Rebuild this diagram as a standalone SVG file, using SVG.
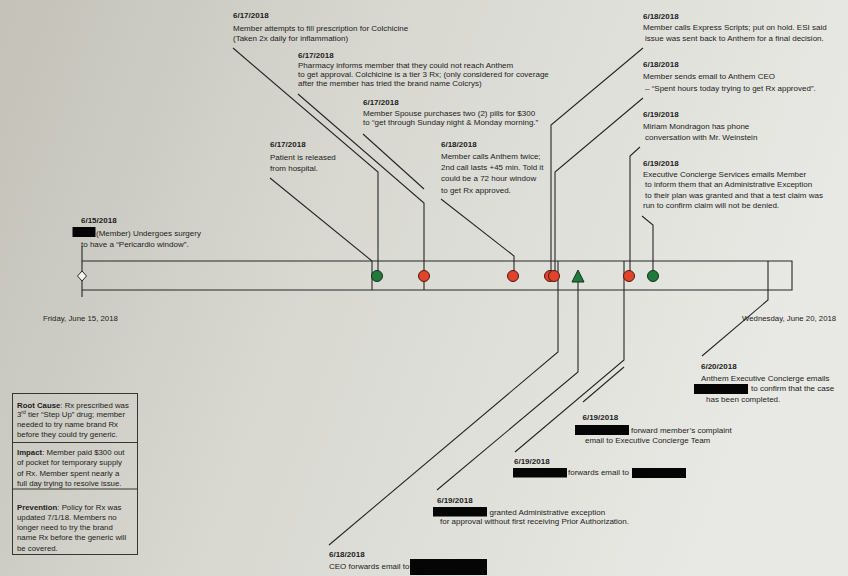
<svg xmlns="http://www.w3.org/2000/svg" width="848" height="576" viewBox="0 0 848 576">
<defs>
<linearGradient id="bg" x1="0" y1="0" x2="1" y2="0.25">
<stop offset="0" stop-color="#c3c1b8"/>
<stop offset="0.45" stop-color="#d8d8d1"/>
<stop offset="1" stop-color="#e8e8e4"/>
</linearGradient>
<style>
text{font-family:"Liberation Sans",Arial,sans-serif;font-size:8px;fill:#1c1c1c}
.d{font-weight:bold}
.sm{font-size:7.8px}
.b{font-weight:bold}
.ln{fill:none;stroke:#262626;stroke-width:1.1}
.red{fill:#e2432b;stroke:#4a1a12;stroke-width:1}
.grn{fill:#217a3c;stroke:#0f3319;stroke-width:1}
.rd{fill:#050505}
.box{fill:none;stroke:#3a3530;stroke-width:1}
</style>
</defs>
<rect width="848" height="576" fill="url(#bg)"/>

<g id="timeline">
<path class="ln" d="M82,261 H792 V290 H82"/>
<path class="ln" d="M82,246 V297"/>
<path d="M82,271 L86.5,276 L82,281 L77.5,276 Z" fill="#f4f4f0" stroke="#262626" stroke-width="1"/>
<text class="sm" x="43" y="321">Friday, June 15, 2018</text>
<text class="sm" x="742" y="321">Wednesday, June 20, 2018</text>
</g>

<g id="connectors">
<path class="ln" d="M233,48 L378,172 L378,271"/>
<path class="ln" d="M270,178 L372,261 L372,290"/>
<path class="ln" d="M298,94 L424,203 L424,290"/>
<path class="ln" d="M363,134 L424,189"/>
<path class="ln" d="M441,199 L514,256 L514,271"/>
<path class="ln" d="M643,48 L551,125 L551,271"/>
<path class="ln" d="M643,98 L555,172 L555,271"/>
<path class="ln" d="M640,147 L630,156 L630,271"/>
<path class="ln" d="M642,216 L653,225 L653,271"/>
<path class="ln" d="M329,545 L558,352 L558,261"/>
<path class="ln" d="M437,490 L578,372 L578,282"/>
<path class="ln" d="M515,452 L624,360 L624,261"/>
<path class="ln" d="M583,402 L624,367"/>
<path class="ln" d="M702,356 L768,300 L768,261"/>
</g>

<g id="markers">
<circle class="grn" cx="377" cy="276" r="5.5"/>
<circle class="red" cx="424" cy="276" r="5.5"/>
<circle class="red" cx="513" cy="276" r="5.5"/>
<circle class="red" cx="550" cy="276" r="5.5"/>
<circle class="red" cx="554" cy="276" r="5.5"/>
<polygon class="grn" points="578,270 572,282 584,282"/>
<circle class="red" cx="629" cy="276" r="5.5"/>
<circle class="grn" cx="653" cy="276" r="5.5"/>
</g>

<g id="ev-0615-surgery">
<text class="d" x="81" y="223">6/15/2018</text>
<rect class="rd" x="72.5" y="227" width="23" height="10"/>
<text x="96" y="235.5">(Member) Undergoes surgery</text>
<text x="81" y="247">to have a “Pericardio window”.</text>
</g>

<g id="ev-0617-fill">
<text class="d" x="233" y="18">6/17/2018</text>
<text x="233" y="31">Member attempts to fill prescription for Colchicine</text>
<text x="233" y="41">(Taken 2x daily for inflammation)</text>
</g>

<g id="ev-0617-pharmacy">
<text class="d" x="298" y="58">6/17/2018</text>
<text x="298" y="68">Pharmacy informs member that they could not reach Anthem</text>
<text x="298" y="77">to get approval. Colchicine is  a tier 3 Rx; (only considered for coverage</text>
<text x="298" y="86">after the member has tried the brand name Colcrys)</text>
</g>

<g id="ev-0617-spouse">
<text class="d" x="363" y="104.5">6/17/2018</text>
<text x="363" y="115.5">Member Spouse purchases two (2) pills for $300</text>
<text x="363" y="124.5">to “get through Sunday night &amp; Monday morning.”</text>
</g>

<g id="ev-0617-release">
<text class="d" x="270" y="147">6/17/2018</text>
<text x="270" y="159.5">Patient is released</text>
<text x="270" y="170.5">from hospital.</text>
</g>

<g id="ev-0618-calls">
<text class="d" x="441" y="147">6/18/2018</text>
<text x="441" y="159">Member calls Anthem twice;</text>
<text x="441" y="170">2nd call lasts +45 min. Told it</text>
<text x="441" y="181">could be a 72 hour window</text>
<text x="441" y="192.5">to get Rx approved.</text>
</g>

<g id="ev-0618-esi">
<text class="d" x="643" y="18.5">6/18/2018</text>
<text x="643" y="29.5">Member calls Express Scripts; put on hold. ESI said</text>
<text x="645" y="40.5">issue was sent back to Anthem for a final decision.</text>
</g>

<g id="ev-0618-ceo-email">
<text class="d" x="643" y="67">6/18/2018</text>
<text x="643" y="79">Member sends email to Anthem CEO</text>
<text x="645" y="91">– “Spent hours today trying to get Rx approved”.</text>
</g>

<g id="ev-0619-phone">
<text class="d" x="643" y="117">6/19/2018</text>
<text x="643" y="129">Miriam Mondragon has phone</text>
<text x="645" y="139.5">conversation with Mr. Weinstein</text>
</g>

<g id="ev-0619-concierge">
<text class="d" x="643" y="166">6/19/2018</text>
<text x="643" y="177">Executive Concierge Services emails Member</text>
<text x="645" y="187">to inform them that an Administrative Exception</text>
<text x="645" y="197.5">to their plan was granted and that a test claim was</text>
<text x="643" y="208">run to confirm claim will not be denied.</text>
</g>

<g id="ev-0620-complete">
<text class="d" x="701" y="368.5">6/20/2018</text>
<text x="701" y="380.5">Anthem Executive Concierge emails</text>
<rect class="rd" x="694" y="384" width="54" height="10"/>
<text x="751" y="391">to confirm that the case</text>
<text x="706" y="402">has been completed.</text>
</g>

<g id="ev-0619-complaint">
<text class="d" x="582.5" y="420">6/19/2018</text>
<rect class="rd" x="575" y="425" width="54" height="10"/>
<text x="631" y="432.5">forward member’s complaint</text>
<text x="585" y="443">email to Executive Concierge Team</text>
</g>

<g id="ev-0619-forwards">
<text class="d" x="514" y="463.5">6/19/2018</text>
<rect class="rd" x="513" y="468" width="54" height="9.5"/>
<text x="568" y="475">forwards email to</text>
<rect class="rd" x="632" y="468" width="54" height="10"/>
</g>

<g id="ev-0619-granted">
<text class="d" x="437" y="503">6/19/2018</text>
<rect class="rd" x="433" y="507" width="54" height="9.5"/>
<text x="489.5" y="514.5">granted Administrative exception</text>
<text x="440" y="524">for approval without first receiving Prior Authorization.</text>
</g>

<g id="ev-0618-ceo-forward">
<text class="d" x="329" y="557">6/18/2018</text>
<text x="329" y="569">CEO forwards email to</text>
<rect class="rd" x="410" y="559" width="77" height="16"/>
</g>

<g id="summary-box">
<rect class="box" x="12.5" y="393.5" width="125" height="161"/>
<path class="box" d="M12.5,442.5 H137.5 M12.5,489 H137.5"/>
<text class="sm" x="17" y="407.5"><tspan class="b">Root Cause</tspan>: Rx prescribed was</text>
<text class="sm" x="17" y="417">3<tspan font-size="5" dy="-3">rd</tspan><tspan dy="3"> tier “Step Up” drug; member</tspan></text>
<text class="sm" x="17" y="426.5">needed to try name brand Rx</text>
<text class="sm" x="17" y="436.5">before they could try generic.</text>
<text class="sm" x="17" y="455"><tspan class="b">Impact</tspan>: Member paid $300 out</text>
<text class="sm" x="17" y="465">of pocket for temporary supply</text>
<text class="sm" x="17" y="475.5">of Rx. Member spent nearly a</text>
<text class="sm" x="17" y="486">full day trying to resolve issue.</text>
<text class="sm" x="17" y="510"><tspan class="b">Prevention</tspan>: Policy for Rx was</text>
<text class="sm" x="17" y="520">updated 7/1/18. Members no</text>
<text class="sm" x="17" y="530">longer need to try the brand</text>
<text class="sm" x="17" y="540">name Rx before the generic will</text>
<text class="sm" x="17" y="550.5">be covered.</text>
</g>
</svg>
